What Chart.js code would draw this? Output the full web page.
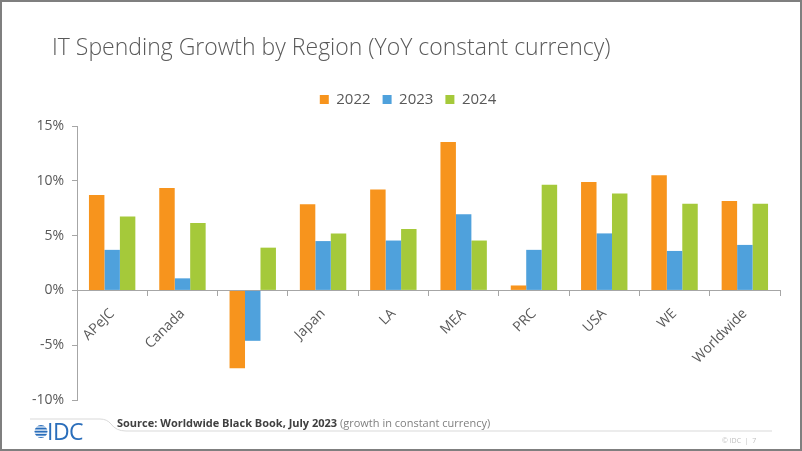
<!DOCTYPE html>
<html>
<head>
<meta charset="utf-8">
<script src="https://cdn.jsdelivr.net/npm/chart.js@4.4.0/dist/chart.umd.min.js"></script>
<style>
  html, body { margin: 0; padding: 0; background: #fff; }
  #frame {
    position: relative; width: 802px; height: 451px; box-sizing: border-box;
    border: 2px solid #7f7f7f; overflow: hidden; font-family: "Open Sans", sans-serif;
  }
  #title {
    position: absolute; left: 50px; top: 28px; font-size: 23px; font-weight: 300;
    color: #595959; white-space: nowrap;
  }
  #wrap { position: absolute; left: -2px; top: -2px; width: 802px; height: 451px; }
  #source {
    position: absolute; left: 115px; top: 413px; font-size: 11px; color: #7f7f7f; white-space: nowrap;
  }
  #source b { color: #404040; font-weight: 700; }
  #copy { position: absolute; left: 720px; top: 434px; font-size: 7px; color: #bfbfbf; }
  #deco { position: absolute; left: -2px; top: -2px; }
</style>
</head>
<body>
<div id="frame">
  <div id="wrap"><canvas id="barChart" width="802" height="451"></canvas></div>
  <div id="title">IT Spending Growth by Region (YoY constant currency)</div>
  <svg id="deco" width="802" height="451">
    <path d="M30 419 L100 419 Q107 419 111 424 Q116 431 126 431 L772 431" fill="none" stroke="#d9d9d9" stroke-width="1"/>
    <defs>
      <clipPath id="globe"><circle cx="41" cy="431.5" r="6.5"/></clipPath>
    </defs>
    <g clip-path="url(#globe)" fill="#2a6ebb">
      <rect x="33" y="424.5" width="17" height="1.9"/>
      <rect x="33" y="427.6" width="17" height="1.9"/>
      <rect x="33" y="430.7" width="17" height="1.9"/>
      <rect x="33" y="433.8" width="17" height="1.9"/>
      <rect x="33" y="436.9" width="17" height="1.9"/>
    </g>
    <text x="47" y="440" font-family="Open Sans, sans-serif" font-size="23" fill="#2a6ebb" letter-spacing="-0.5">IDC</text>
  </svg>
  <div id="source"><b>Source: Worldwide Black Book, July 2023</b> (growth in constant currency)</div>
  <div id="copy">© IDC &nbsp;|&nbsp; 7</div>
</div>
<script>
// Regioni e valori (% crescita YoY)
const regions = ["APeJC", "Canada", "CEE", "Japan", "LA", "MEA", "PRC", "USA", "WE", "Worldwide"];
const growth2022 = [8.7, 9.35, -7.1, 7.85, 9.2, 13.55, 0.45, 9.9, 10.5, 8.15];
const growth2023 = [3.7, 1.1, -4.6, 4.5, 4.55, 6.95, 3.7, 5.2, 3.6, 4.15];
const growth2024 = [6.75, 6.15, 3.9, 5.2, 5.6, 4.55, 9.65, 8.85, 7.9, 7.9];
const yTicks = [-10, -5, 0, 5, 10, 15];

const textColor = "#595959";
Chart.defaults.font.family = "'Open Sans', sans-serif";

// Spazio extra sotto la legenda e legenda spostata un po' a destra
const legendGap = {
    id: "legendGap",
    beforeLayout(chart) {
        const legend = chart.legend;
        if (legend && !legend._gapPatched) {
            const fit = legend.fit;
            legend.fit = function () {
                fit.call(this);
                this.height += 9;
            };
            legend._gapPatched = true;
        }
    },
    afterLayout(chart) {
        chart.legend.left += 18;
        chart.legend.right += 18;
    },
};

const ctx = document.getElementById("barChart").getContext("2d");
const chart = new Chart(ctx, {
    type: "bar",
    data: {
        labels: regions,
        datasets: [
            { label: "2022", data: growth2022, backgroundColor: "#f7941d" },
            { label: "2023", data: growth2023, backgroundColor: "#4fa1dc" },
            { label: "2024", data: growth2024, backgroundColor: "#a5c93a" },
        ],
    },
    plugins: [legendGap],
    options: {
        responsive: false,
        animation: false,
        devicePixelRatio: 1,
        categoryPercentage: 0.66,
        barPercentage: 1,
        layout: { padding: { top: 80, right: 22, bottom: 51, left: 0 } },
        plugins: {
            legend: {
                position: "top",
                labels: {
                    color: textColor,
                    font: { size: 15 },
                    boxWidth: 9,
                    boxHeight: 9,
                    padding: 12,
                },
            },
            tooltip: { enabled: false },
        },
        scales: {
            x: {
                position: { y: 0 },
                afterFit: (scale) => { scale.height = 0; },
                grid: { drawOnChartArea: false, tickLength: 5, color: "#a6a6a6" },
                border: { color: "#a6a6a6" },
                ticks: {
                    color: textColor,
                    font: { size: 14 },
                    autoSkip: false,
                    minRotation: 45,
                    maxRotation: 45,
                    padding: 10,
                },
            },
            y: {
                min: -10,
                max: 15,
                afterBuildTicks: (scale) => { scale.ticks = yTicks.map((v) => ({ value: v })); },
                afterFit: (scale) => { scale.width = 77; },
                grid: { drawOnChartArea: false, tickLength: 5, color: "#a6a6a6" },
                border: { color: "#a6a6a6" },
                ticks: {
                    color: textColor,
                    font: { size: 14 },
                    padding: 8,
                    callback: (v) => v + "%",
                },
            },
        },
    },
});
</script>
</body>
</html>
